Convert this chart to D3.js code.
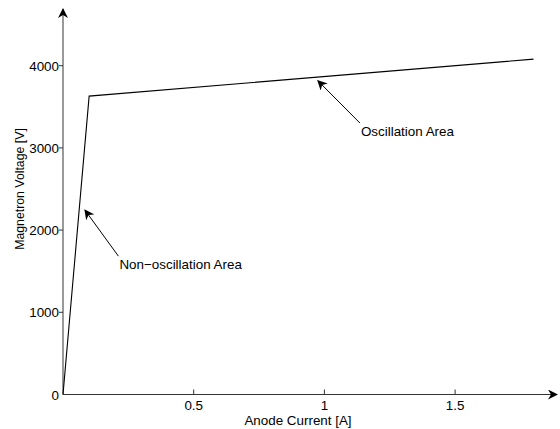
<!DOCTYPE html>
<html>
<head>
<meta charset="utf-8">
<script src="https://cdn.jsdelivr.net/npm/d3@7"></script>
<style>
  body { margin: 0; background: #fff; }
  text { font-family: "Liberation Sans", Arial, sans-serif; font-size: 13.4px; fill: #000; }
</style>
</head>
<body>
<script>
// curve points
const current = [0, 0.1, 1.8];
const voltage = [0, 3630, 4080];

const xTicks = [0.5, 1, 1.5];
const xTickLabels = ["0.5", "1", "1.5"];
const yTicks = [0, 1000, 2000, 3000, 4000];
const yTickLabels = ["0", "1000", "2000", "3000", "4000"];

// annotations: [label, tip x, tip y, tail x, tail y]
const noteLabels = ["Oscillation Area", "Non\u2212oscillation Area"];
const noteTip = [[0.975, 3817], [0.084, 2243]];
const noteTail = [[1.136, 3302], [0.212, 1683]];

const width = 560;
const height = 429;

const x = d3.scaleLinear().domain([0, 0.5]).range([63, 193.7]);
const y = d3.scaleLinear().domain([0, 1000]).range([394.5, 312.3]);

let svg = d3.select("body").append("svg")
  .attr("width", width)
  .attr("height", height);

let defs = svg.append("defs");
defs.append("marker")
  .attr("id", "head")
  .attr("viewBox", "0 0 10 10")
  .attr("refX", 9).attr("refY", 5)
  .attr("markerWidth", 10).attr("markerHeight", 10)
  .attr("markerUnits", "userSpaceOnUse")
  .attr("orient", "auto")
  .append("path")
  .attr("d", "M0,0 L10,5 L0,10 L3,5 Z")
  .attr("fill", "#000");

// axes with arrows
svg.append("line")
  .attr("x1", x(0)).attr("y1", y(0))
  .attr("x2", 557).attr("y2", y(0))
  .attr("stroke", "#333").attr("stroke-width", 1.2)
  .attr("marker-end", "url(#head)");
svg.append("line")
  .attr("x1", x(0)).attr("y1", y(0))
  .attr("x2", x(0)).attr("y2", 9)
  .attr("stroke", "#555").attr("stroke-width", 1.2)
  .attr("marker-end", "url(#head)");

// x ticks
svg.selectAll(".xt")
  .data(xTicks)
  .enter()
    .append("line")
    .attr("x1", function (d) { return x(d); })
    .attr("x2", function (d) { return x(d); })
    .attr("y1", y(0)).attr("y2", y(0) - 5)
    .attr("stroke", "#333");
svg.selectAll(".xl")
  .data(xTicks)
  .enter()
    .append("text")
    .attr("x", function (d) { return x(d); })
    .attr("y", 410)
    .attr("text-anchor", "middle")
    .text(function (d, i) { return xTickLabels[i]; });

// y ticks
svg.selectAll(".yt")
  .data(yTicks.slice(1))
  .enter()
    .append("line")
    .attr("x1", x(0) - 4).attr("x2", x(0))
    .attr("y1", function (d) { return y(d); })
    .attr("y2", function (d) { return y(d); })
    .attr("stroke", "#333");
svg.selectAll(".yl")
  .data(yTicks)
  .enter()
    .append("text")
    .attr("x", 59)
    .attr("y", function (d) { return y(d) + 5; })
    .attr("text-anchor", "end")
    .text(function (d, i) { return yTickLabels[i]; });

// axis titles
svg.append("text")
  .attr("x", 298).attr("y", 425)
  .attr("text-anchor", "middle")
  .text("Anode Current [A]");
svg.append("text")
  .attr("transform", "translate(24,189) rotate(-90)")
  .attr("text-anchor", "middle")
  .style("font-size", "12.3px")
  .text("Magnetron Voltage [V]");

// the curve
let line = d3.line()
  .x(function (d) { return x(d[0]); })
  .y(function (d) { return y(d[1]); });
svg.append("path")
  .datum(d3.zip(current, voltage))
  .attr("d", line)
  .attr("fill", "none")
  .attr("stroke", "#000")
  .attr("stroke-width", 1.1);

// annotation arrows
noteLabels.forEach(function (label, i) {
  svg.append("line")
    .attr("x1", x(noteTail[i][0])).attr("y1", y(noteTail[i][1]))
    .attr("x2", x(noteTip[i][0])).attr("y2", y(noteTip[i][1]))
    .attr("stroke", "#000").attr("stroke-width", 1)
    .attr("marker-end", "url(#head)");
  svg.append("text")
    .attr("x", x(noteTail[i][0]) + 1)
    .attr("y", y(noteTail[i][1]) + 13)
    .text(label);
});
</script>
</body>
</html>
